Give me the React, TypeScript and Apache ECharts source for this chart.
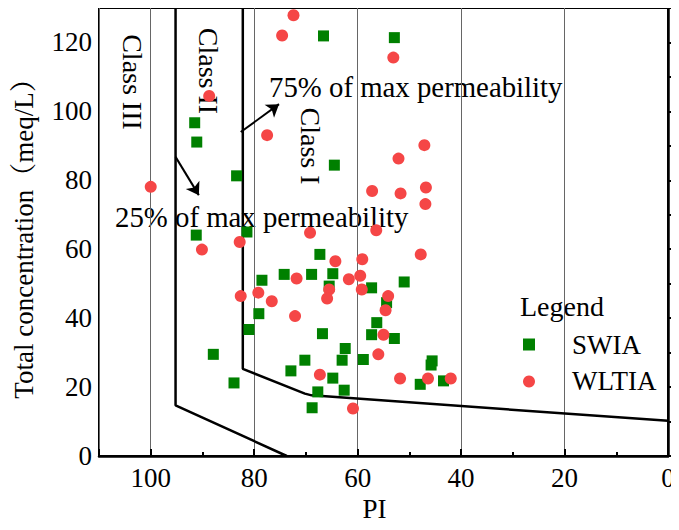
import React, { useEffect, useRef } from "react";
import * as echarts from "echarts";

// ---------- data ----------
const swiaPoints: [number, number][] = [
  [66.6, 121.9], [52.9, 121.4], [91.5, 96.7], [91.1, 91.1], [83.4, 81.3], [64.5, 84.4],
  [91.2, 64.1], [81.4, 65.0], [67.3, 58.5], [78.5, 51.0], [74.2, 52.7], [68.9, 52.7],
  [64.8, 52.9], [65.5, 49.3], [57.3, 48.8], [51.0, 50.5], [54.4, 44.5], [79.1, 41.3],
  [81.0, 36.7], [66.8, 35.5], [56.3, 38.7], [57.3, 35.2], [52.9, 34.1], [62.4, 31.2],
  [63.0, 27.8], [70.2, 27.8], [58.9, 28.0], [72.9, 24.7], [64.8, 22.6], [83.9, 21.2],
  [67.7, 18.6], [62.6, 19.1], [68.8, 14.0], [45.6, 27.6], [45.8, 26.4], [47.9, 20.8],
  [43.4, 21.8], [87.9, 29.5],
];

const wltiaPoints: [number, number][] = [
  [72.4, 127.9], [74.6, 122.0], [53.1, 115.6], [88.7, 104.5], [77.5, 93.1], [47.1, 90.2],
  [52.1, 86.3], [57.2, 76.9], [51.7, 76.2], [46.8, 77.9], [46.9, 73.1], [100.0, 78.1],
  [56.4, 65.5], [69.2, 64.8], [82.8, 62.1], [90.1, 59.9], [47.8, 58.5], [64.3, 56.5],
  [59.1, 57.1], [71.8, 51.5], [61.7, 51.3], [59.5, 52.3], [65.5, 48.3], [59.2, 48.3],
  [65.9, 45.7], [82.6, 46.4], [79.2, 47.4], [76.6, 44.9], [72.1, 40.6], [54.1, 46.4],
  [54.6, 42.3], [55.0, 35.2], [56.0, 29.5], [67.3, 23.6], [51.8, 22.5], [46.4, 22.5],
  [42.0, 22.5], [60.9, 13.8],
];

// Doneen class boundaries (PI, total concentration)
const boundaryIII_II: [number, number][] = [[95.2, 130], [95.2, 14.7], [73.7, 0]];
const boundaryII_I: [number, number][] = [[82.2, 130], [82.2, 25.3], [70.2, 18.1], [68.9, 17.6], [0, 10.2]];

// annotation arrows
const arrow75: [number, number][] = [[82.6, 94.0], [75.2, 102.1]];
const arrow25: [number, number][] = [[95.2, 86.8], [90.7, 75.7]];

const seriesNames = ["SWIA", "WLTIA"];
const xTitle = "PI";
const yTitle = "Total concentration（meq/L）";

const FONT = "'Liberation Serif', 'Times New Roman', 'Noto Serif CJK SC', 'Noto Sans CJK SC', serif";

export default function App() {
  const ref = useRef<HTMLDivElement>(null);
  useEffect(() => {
    if (!ref.current) return;
    const chart = echarts.init(ref.current, undefined, { renderer: "svg" });
    const txt = { fontFamily: FONT, color: "#000" };
    const option: any = {
      animation: false,
      backgroundColor: "#fff",
      grid: {
        left: 99, right: 11, top: 8, bottom: 74,
        show: true, borderColor: "#000", borderWidth: 2, backgroundColor: "transparent",
      },
      xAxis: [
        {
          type: "value", inverse: true, min: 0, max: 110, interval: 20,
          name: xTitle, nameLocation: "middle", nameGap: 38,
          nameTextStyle: { ...txt, fontSize: 27, padding: [0, 18, 0, 0] },
          axisLine: { lineStyle: { color: "#000", width: 2.5 } },
          axisTick: { inside: true, length: 7, lineStyle: { color: "#000", width: 2 } },
          axisLabel: { ...txt, fontSize: 27, margin: 8, formatter: (v: number) => (v > 100 ? "" : String(v)) },
          splitLine: { show: true, lineStyle: { color: "#666", width: 1 } },
        },
        {
          type: "value", inverse: true, min: 0, max: 110, interval: 10, position: "bottom",
          axisLine: { show: false },
          axisTick: { inside: true, length: 4, lineStyle: { color: "#000", width: 2 } },
          axisLabel: { show: false },
          splitLine: { show: false },
        },
      ],
      yAxis: [
        {
          type: "value", min: 0, max: 130, interval: 20,
          name: yTitle, nameLocation: "middle", nameGap: 62,
          nameTextStyle: { ...txt, fontSize: 27 },
          axisLine: { lineStyle: { color: "#000", width: 2.5 } },
          axisTick: { inside: true, length: 7, lineStyle: { color: "#000", width: 2 } },
          axisLabel: { ...txt, fontSize: 27, margin: 7, formatter: (v: number) => (v > 120 ? "" : String(v)) },
          splitLine: { show: false },
        },
        {
          type: "value", min: 0, max: 130, interval: 10, position: "left",
          axisLine: { show: false },
          axisTick: { inside: true, length: 4, lineStyle: { color: "#000", width: 2 } },
          axisLabel: { show: false },
          splitLine: { show: false },
        },
      ],
      legend: {
        data: seriesNames,
        orient: "vertical",
        left: 523, top: 331, padding: 0,
        itemWidth: 12, itemHeight: 12, itemGap: 10,
        textStyle: { ...txt, fontSize: 27, padding: [0, 0, 0, 32] },
      },
      graphic: [
        { type: "text", left: 520, top: 292, style: { text: "Legend", font: `28px ${FONT}`, fill: "#000" } },
        { type: "text", x: 269, y: 87, style: { text: "75% of max permeability", font: `28.8px ${FONT}`, fill: "#000", align: "left", verticalAlign: "middle" } },
        { type: "text", x: 115, y: 217, style: { text: "25% of max permeability", font: `28.8px ${FONT}`, fill: "#000", align: "left", verticalAlign: "middle" } },
        { type: "text", x: 132, y: 82, rotation: -Math.PI / 2, style: { text: "Class III", font: `28px ${FONT}`, fill: "#000", align: "center", verticalAlign: "middle" } },
        { type: "text", x: 208, y: 71, rotation: -Math.PI / 2, style: { text: "Class II", font: `28px ${FONT}`, fill: "#000", align: "center", verticalAlign: "middle" } },
        { type: "text", x: 310, y: 146, rotation: -Math.PI / 2, style: { text: "Class I", font: `28px ${FONT}`, fill: "#000", align: "center", verticalAlign: "middle" } },
      ],
      series: [
        {
          type: "line", data: boundaryIII_II, symbol: "none", silent: true,
          lineStyle: { color: "#000", width: 2.5 }, z: 3,
        },
        {
          type: "line", data: boundaryII_I, symbol: "none", silent: true,
          lineStyle: { color: "#000", width: 2.5 }, z: 3,
        },
        {
          type: "lines", coordinateSystem: "cartesian2d", silent: true,
          symbol: ["none", "arrow"], symbolSize: 12,
          lineStyle: { color: "#000", width: 2, opacity: 1 },
          data: [{ coords: arrow75 }, { coords: arrow25 }], z: 4,
        },
        {
          name: seriesNames[0], type: "scatter", data: swiaPoints,
          symbol: "rect", symbolSize: 11,
          itemStyle: { color: "#008000", opacity: 1 }, z: 5,
        },
        {
          name: seriesNames[1], type: "scatter", data: wltiaPoints,
          symbol: "circle", symbolSize: 12,
          itemStyle: { color: "#F54646", opacity: 1 }, z: 6,
        },
      ],
    };
    chart.setOption(option);
    return () => chart.dispose();
  }, []);
  return <div ref={ref} style={{ width: 679, height: 530, margin: -8 }} />;
}
